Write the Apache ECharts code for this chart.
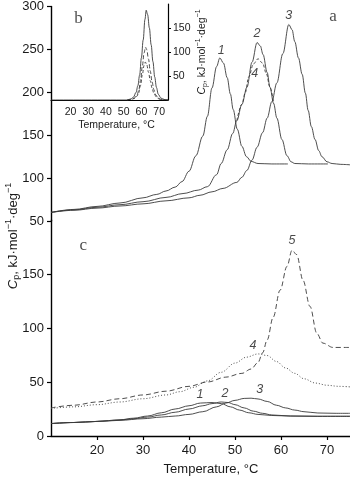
<!DOCTYPE html>
<html><head><meta charset="utf-8">
<script src="https://cdn.jsdelivr.net/npm/echarts@6/dist/echarts.min.js"></script>
<style>html,body{margin:0;padding:0;background:#fff}#c{width:350px;height:479px}</style>
</head><body><div id="c"></div>
<script>
// ---------- Panel a (upper): temperature [°C], Cp ----------
const curveA1 = [[10,60],[15,63.5],[20,67],[25,71],[30,77],[33,81],[35,85],[37,89.5],[38.5,96],[40,108],[41.5,126],[43,149],[44,172],[45,205],[46,230],[46.7,240],[47.5,234],[48.3,217],[49,198],[49.6,180],[50.5,157],[51.5,137],[52.5,125],[53.5,119.5],[55,117],[58,116.5],[61.5,116.5]];
const curveA2 = [[10,60],[15,63],[20,66],[25,69],[30,72.5],[35,77.5],[38.7,82],[42,86],[44,90],[46,104],[47,117],[48.3,133],[49.5,152],[50.4,167],[51.5,186],[52.6,206],[53.7,235],[54.8,258],[55.5,254],[56.1,244],[57,223],[57.6,206],[58.4,187],[59.1,170],[60.2,145],[61.3,126],[62.2,119],[63,117],[66,116.5],[70.2,116.5]];
const curveA3 = [[10,60],[15,62.5],[20,65],[25,67.5],[30,70],[35,73.5],[40,77],[42.4,80],[45,84],[47.4,88],[50.4,95],[51.5,101],[52.6,109],[53.7,121],[54.8,136],[56,153],[57,170],[58,189],[59.1,211],[60.4,245],[61.7,279],[62.4,273],[63,259],[63.8,240],[64.6,221],[65.3,199],[65.9,179],[66.6,160],[67.4,145],[68.2,132],[68.9,125],[70,119],[71.1,117],[73,116],[75,115.5]];
const curveA4 = [[50.4,167],[51.5,186],[52.2,199],[53,218],[54,233],[55,239],[56,234],[56.8,222],[57.6,206],[58.4,187]];
// ---------- Panel c (lower) ----------
const curveC1 = [[10,11.5],[15,12.5],[20,13.5],[25,15],[28,16.5],[31,18.5],[34,21.5],[37,25],[40,28],[42.5,30.5],[45,31],[47,30],[49,27],[51,24],[53,21.5],[55,20],[58,19],[62,18.5],[68,18.3],[75,18.3]];
const curveC2 = [[10,11.5],[15,12.5],[20,13.5],[25,14.8],[28,16],[31,17.5],[34,19.5],[37,22],[40,25],[43,28],[45,30],[47,31.5],[48.5,31],[50,29],[52,26],[54,23],[56,21],[58,19.5],[62,18.5],[68,18.2],[75,18.2]];
const curveC3 = [[10,11.5],[15,12.5],[20,13.5],[25,14.5],[30,16],[34,17.5],[37,18.5],[40,20],[43,22.5],[46,27],[48,30.5],[50,33],[52,34.8],[53.5,35],[55,34.3],[57,32],[59,28.5],[61,26],[63,24],[65,22.5],[68,21.3],[72,21],[75,21]];
const curveC4 = [[10,25.5],[15,27],[20,29],[25,31.5],[30,34.5],[35,38],[38,41],[41,45],[44,51],[47,59],[50,67.5],[52.5,73],[55,76],[57,74.5],[59,69],[61,63],[63,58],[65,53],[67.5,49],[70,47],[72.5,46],[75,45.5]];
const curveC5 = [[10,26],[15,28.5],[20,31.5],[25,34.5],[30,38],[35,41.5],[40,46],[44,50],[48,54.5],[51.5,58],[53.5,62],[55,68],[56,77],[57,89],[58.3,110],[59.8,135],[61.3,157],[62.4,172],[63.4,168],[64.8,144],[66.3,120],[67.8,95],[69.1,86],[71.3,82],[75,82]];
// ---------- Panel b (inset) ----------
const curveB1 = [[9,0],[52,0],[54,2],[55.5,6],[57,16],[58,30],[59,52],[60,88],[61,125],[62,168],[62.7,187],[63.5,178],[64.5,150],[65.5,115],[66.5,80],[67.5,48],[68.5,26],[69.5,12],[71,4],[73,1],[75,0]];
const curveB2 = [[52,0],[54,1.5],[56,4],[57.5,10],[58.5,20],[59.5,40],[60.5,70],[61.5,98],[62.3,110],[63,105],[64,85],[65,60],[66,38],[67,22],[68,11],[69.5,4],[71,1],[75,0]];
const curveB3 = [[52,0],[54,1],[56,3],[57.5,8],[58.5,15],[59.5,30],[60.5,52],[61.5,72],[62.2,79],[63,74],[64,58],[65,40],[66,25],[67,14],[68.5,6],[70,2],[72,0.5],[75,0]];
// ---------- ticks & annotations ----------
const mainXTicks = [20,30,40,50,60,70];
const insetXTicks = [20,30,40,50,60,70];
const lowerYTicks = [0,50,100,150];
const insetYTicks = [50,100,150];
const labelsA = [[47,249,'1'],[54.8,269,'2'],[61.7,289.6,'3'],[54.3,222,'4']];
const labelsC = [[42.4,38,'1'],[47.8,39.8,'2'],[55.4,43.5,'3'],[53.9,84,'4'],[62.4,181,'5']];
const letterA = [[71.3,288,'a']];
const letterC = [[17,176,'c']];
const letterB = [[24.5,170,'b']];

const SANS = '"Liberation Sans", Arial, Helvetica, sans-serif';
const SERIF = '"Liberation Serif", "Times New Roman", serif';
const INK = '#1a1a1a';
const CURVE = '#3a3a3a';
const chart = echarts.init(document.getElementById('c'));

function line(data, xi, type, w) {
  return {type:'line', xAxisIndex:xi, yAxisIndex:xi, data:data, showSymbol:false, smooth:0.35, smoothMonotone:'x',
    silent:true, animation:false, lineStyle:{color:CURVE, width:w||0.9, type:type||'solid'}};
}
function labels(data, xi, font, size, italic) {
  return {type:'scatter', xAxisIndex:xi, yAxisIndex:xi, data:data, symbolSize:1, silent:true, animation:false,
    itemStyle:{color:'rgba(0,0,0,0)'}, z:10,
    label:{show:true, position:'inside', formatter:p=>p.data[2], color:INK, fontFamily:font, fontSize:size,
      fontStyle: italic ? 'italic' : 'normal'}};
}
const richName = (fs) => ({
  i:{fontStyle:'italic', fontSize:fs, fontFamily:SANS, color:INK, lineHeight:fs+4, verticalAlign:'middle'},
  n:{fontSize:fs, fontFamily:SANS, color:INK, lineHeight:fs+4, verticalAlign:'middle'},
  s:{fontSize:Math.round(fs*0.7), fontFamily:SANS, color:INK, lineHeight:fs+4, verticalAlign:'bottom'},
  u:{fontSize:Math.round(fs*0.7), fontFamily:SANS, color:INK, lineHeight:fs+4, verticalAlign:'top'}
});
const nameText = '{i|C}{s|p}{n|, kJ·mol}{u|−1}{n|·deg}{u|−1}';
const axLine = {show:true, lineStyle:{color:'#000', width:1.4}};
const tickStyle = {color:'#000', width:1.2};

chart.setOption({
  animation:false,
  backgroundColor:'#fff',
  grid:[
    {left:51, top:5, width:299, height:216},
    {left:51, top:220, width:299, height:216},
    {left:51, top:4, width:117, height:96}
  ],
  xAxis:[
    {gridIndex:0, type:'value', min:10, max:75, show:false},
    {gridIndex:1, type:'value', min:10, max:75, interval:10, axisLine:axLine,
      axisTick:{show:true, length:4, customValues:mainXTicks, lineStyle:tickStyle},
      axisLabel:{customValues:mainXTicks, fontSize:13, fontFamily:SANS, color:INK, margin:8},
      splitLine:{show:false},
      name:'Temperature, °C', nameLocation:'middle', nameGap:27,
      nameTextStyle:{fontSize:13, fontFamily:SANS, color:INK, padding:[0,0,0,21]}},
    {gridIndex:2, type:'value', min:9, max:75, axisLine:{show:true, lineStyle:{color:'#000', width:1.2}},
      axisTick:{show:false},
      axisLabel:{customValues:insetXTicks, fontSize:10.5, fontFamily:SANS, color:INK, margin:7},
      splitLine:{show:false},
      name:'Temperature, °C', nameLocation:'middle', nameGap:20,
      nameTextStyle:{fontSize:10.5, fontFamily:SANS, color:INK, padding:[0,0,0,14]}}
  ],
  yAxis:[
    {gridIndex:0, type:'value', min:50, max:300, interval:50, axisLine:axLine,
      axisTick:{show:true, length:4, lineStyle:tickStyle},
      axisLabel:{fontSize:13, fontFamily:SANS, color:INK, margin:7}, splitLine:{show:false}},
    {gridIndex:1, type:'value', min:0, max:200, interval:50, axisLine:axLine,
      axisTick:{show:true, length:4, customValues:lowerYTicks, lineStyle:tickStyle},
      axisLabel:{customValues:lowerYTicks, fontSize:13, fontFamily:SANS, color:INK, margin:7}, splitLine:{show:false}},
    {gridIndex:2, type:'value', position:'right', min:0, max:200, interval:50, axisLine:{show:true, lineStyle:{color:'#000', width:1.2}},
      axisTick:{show:true, length:3, customValues:insetYTicks, lineStyle:{color:'#000', width:1}},
      axisLabel:{customValues:insetYTicks, fontSize:10.5, fontFamily:SANS, color:INK, margin:5}, splitLine:{show:false},
      name:nameText, nameLocation:'middle', nameGap:22,
      nameTextStyle:{fontSize:10.5, fontFamily:SANS, color:INK, rich:richName(10.5)}}
  ],
  graphic:[
    {type:'text', x:13, y:236, rotation:Math.PI/2,
      style:{text:nameText, rich:richName(13), fontSize:13, fontFamily:SANS, fill:INK, align:'center', verticalAlign:'middle'}}
  ],
  series:[
    line(curveA1,0), line(curveA2,0), line(curveA3,0), line(curveA4,0,[3,2]),
    line(curveC1,1), line(curveC2,1), line(curveC3,1), line(curveC4,1,[1,2]), line(curveC5,1,[5,3]),
    line(curveB1,2), line(curveB2,2,[4,2]), line(curveB3,2,[3,2]),
    labels(labelsA,0,SANS,12.5,true), labels(labelsC,1,SANS,12.5,true),
    labels(letterA,0,SERIF,17,false), labels(letterC,1,SERIF,17,false), labels(letterB,2,SERIF,17,false)
  ]
});
</script>
</body></html>
